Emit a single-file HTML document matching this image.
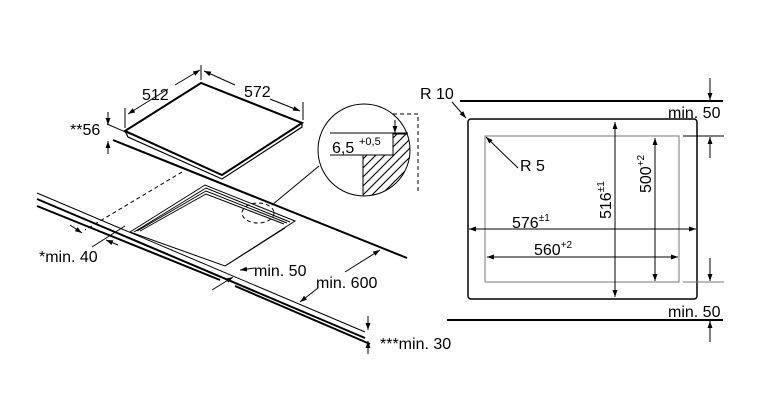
<!DOCTYPE html>
<html><head><meta charset="utf-8"><style>
html,body{margin:0;padding:0;background:#fff;}
svg{display:block;font-family:"Liberation Sans",Arial,sans-serif;}
</style></head><body>
<svg width="782" height="410" viewBox="0 0 782 410" xmlns="http://www.w3.org/2000/svg">
<defs>
<marker id="a" viewBox="0 0 10 10" refX="10" refY="5" markerWidth="7" markerHeight="7" orient="auto-start-reverse"><path d="M0,1.5 L10,5 L0,8.5 z" fill="#000"/></marker>
<clipPath id="cc"><circle cx="364" cy="150" r="46"/></clipPath>
<pattern id="h" width="9" height="9" patternUnits="userSpaceOnUse"><path d="M-1,10 L10,-1 M-1,1 L1,-1 M8,10 L10,8" stroke="#000" stroke-width="1.1"/></pattern>
</defs>
<g stroke="#000" fill="none" stroke-width="1">
<polygon points="125,131 201,83 302,123 222,175" stroke-width="2" fill="#fff"/>
<polyline points="125,131 128,137 222,179 302,127 302,123" stroke-width="1.2"/>
<line x1="125" y1="128" x2="125" y2="108"/>
<line x1="201" y1="80" x2="201" y2="65"/>
<line x1="303" y1="120" x2="303" y2="102"/>
<line x1="128" y1="114" x2="168" y2="89" marker-start="url(#a)"/>
<line x1="175" y1="85" x2="200" y2="70" marker-end="url(#a)"/>
<line x1="204" y1="71" x2="235" y2="85" marker-start="url(#a)"/>
<line x1="270" y1="99" x2="300" y2="111" marker-end="url(#a)"/>
<line x1="107" y1="124" x2="130" y2="134"/>
<line x1="113" y1="140" x2="407" y2="258" stroke-width="2"/>
<line x1="108" y1="112" x2="108" y2="125" marker-end="url(#a)"/>
<line x1="108" y1="154" x2="108" y2="141" marker-end="url(#a)"/>
<line x1="37" y1="193" x2="365" y2="332"/>
<line x1="37" y1="199" x2="365" y2="338" stroke-width="2"/>
<polyline points="37,206 220,280" stroke-width="2"/>
<polyline points="235,286 370,344" stroke-width="2"/>
<polygon points="130,232 205,185 295,221 225,266" fill="#fff"/>
<polyline points="134,232 206,188 290,222"/>
<polyline points="137,231 206,191 287,223"/>
<polyline points="140,231 206,194 284,224"/>
<line x1="182" y1="172" x2="85" y2="230" stroke-dasharray="4,3"/>
<ellipse cx="258" cy="213" rx="16" ry="10" stroke-dasharray="4,3"/>
<line x1="272" y1="205" x2="319" y2="166"/>
<line x1="70" y1="225" x2="82" y2="233" marker-end="url(#a)"/>
<line x1="118" y1="245" x2="106" y2="240" marker-end="url(#a)"/>
<line x1="92" y1="247" x2="125" y2="226"/>
<line x1="255" y1="268" x2="240" y2="270" marker-end="url(#a)"/>
<line x1="212" y1="290" x2="233" y2="277" marker-end="url(#a)"/>
<line x1="225" y1="266" x2="285" y2="228"/>
<line x1="380" y1="250" x2="345" y2="272" marker-start="url(#a)"/>
<line x1="318" y1="288" x2="300" y2="302" marker-end="url(#a)"/>
<line x1="368" y1="316" x2="368" y2="330" marker-end="url(#a)"/>
<line x1="368" y1="354" x2="368" y2="341" marker-end="url(#a)"/>
<circle cx="364" cy="150" r="46" fill="#fff"/>
<g clip-path="url(#cc)">
<path d="M393,134 H420 V200 H363 V155 H393 Z" fill="url(#h)" stroke="#000"/>
</g>
<line x1="330" y1="133" x2="408" y2="133"/>
<line x1="330" y1="155" x2="363" y2="155"/>
<line x1="395" y1="120" x2="395" y2="133" marker-end="url(#a)"/>
<polyline points="393,114 418,114 418,192" stroke-dasharray="4,3"/>
<rect x="468" y="119" width="229" height="180" rx="3" stroke-width="1.5"/>
<rect x="485" y="136" width="194" height="146" stroke="#777"/>
<line x1="460" y1="101" x2="723" y2="101" stroke-width="2"/>
<line x1="447" y1="320" x2="723" y2="320" stroke-width="2"/>
<line x1="683" y1="136" x2="724" y2="136"/>
<line x1="683" y1="282" x2="724" y2="282" stroke="#777"/>
<line x1="710" y1="78" x2="710" y2="100" marker-end="url(#a)"/>
<line x1="710" y1="158" x2="710" y2="137" marker-end="url(#a)"/>
<line x1="710" y1="258" x2="710" y2="281" marker-end="url(#a)"/>
<line x1="710" y1="342" x2="710" y2="321" marker-end="url(#a)"/>
<line x1="615" y1="122" x2="615" y2="297" marker-start="url(#a)" marker-end="url(#a)"/>
<line x1="655" y1="138" x2="655" y2="281" marker-start="url(#a)" marker-end="url(#a)"/>
<line x1="469" y1="229" x2="696" y2="229" marker-start="url(#a)" marker-end="url(#a)"/>
<line x1="487" y1="257" x2="678" y2="257" marker-start="url(#a)" marker-end="url(#a)"/>
<line x1="452" y1="102" x2="466" y2="118" marker-end="url(#a)"/>
<line x1="518" y1="168" x2="486" y2="137" marker-end="url(#a)"/>
</g>
<g font-size="16" fill="#000">
<text x="142" y="100">512</text>
<text x="244" y="97">572</text>
<text x="70" y="135">**56</text>
<text x="39" y="262">*min. 40</text>
<text x="254" y="276">min. 50</text>
<text x="316" y="288">min. 600</text>
<text x="380" y="349">***min. 30</text>
<text x="332" y="153">6,5</text>
<text x="359" y="145" font-size="11">+0,5</text>
<text x="420" y="99">R 10</text>
<text x="520" y="171">R 5</text>
<text x="668" y="118">min. 50</text>
<text x="668" y="317">min. 50</text>
<text x="512" y="228">576<tspan font-size="10" dy="-7">±1</tspan></text>
<text x="534" y="255">560<tspan font-size="10" dy="-7">+2</tspan></text>
<text transform="translate(611,219) rotate(-90)">516<tspan font-size="10" dy="-7">±1</tspan></text>
<text transform="translate(651,193) rotate(-90)">500<tspan font-size="10" dy="-7">+2</tspan></text>
</g>
</svg>
</body></html>
